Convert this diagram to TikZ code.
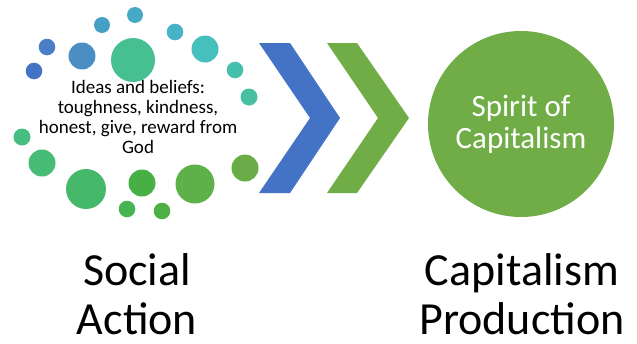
\documentclass[tikz,border=0pt]{standalone}
\usepackage{fontspec}
\setmainfont{Carlito}
\definecolor{chevblue}{HTML}{4472C4}
\definecolor{chevgreen}{HTML}{70AD47}
\begin{document}
\begin{tikzpicture}[x=1pt,y=-1pt,
  txt/.style={align=center,inner sep=0pt}]
  \useasboundingbox (0,0) rectangle (637,343);
  \foreach \x/\y/\r/\c in {34/71/8.3/4472C4, 47/47/8.3/4A7EC6, 82/56/13.5/4A8EC4,
    102/25/8/46A0C6, 135/15/8/46AAC6, 175/32/8.3/46B4C6, 205/49/13.5/46C0BC,
    235/70/8.3/46C0AC, 249/97/8.5/46C0A0, 133/60/22/46C090,
    22/137/8.5/46BE80, 42/163/13.5/46BC76, 86/189/20/46B86A, 127/209/8.3/46B450,
    142/183/13.5/46B045, 162/211/8.3/4CB045, 195/184/19.5/5EB048, 245/168/13.5/6AAC47}
    {\definecolor{dotc}{HTML}{\c}
     \fill[dotc] (\x,\y) circle (\r pt);}
  \node[txt,font=\fontsize{19}{20}\selectfont] (ideas) at (138,116.5)
    {Ideas and beliefs:\\toughness, kindness,\\honest, give, reward from\\God};
  \fill[chevblue] (259,43) -- (290,43) -- (340,118) -- (290,193) -- (259,193) -- (310,118) -- cycle;
  \fill[chevgreen] (327,43) -- (357,43) -- (409,118) -- (357,193) -- (327,193) -- (378,118) -- cycle;
  \node[circle,fill=chevgreen,minimum size=186pt,inner sep=0pt,text=white,align=center,
    font=\fontsize{31}{32}\selectfont] (spirit) at (521,124) {Spirit of\\Capitalism};
  \node[txt,font=\fontsize{46}{49}\selectfont] (social) at (137,294.5) {Social\\Action};
  \node[txt,font=\fontsize{46}{49}\selectfont] (production) at (522,294.5) {Capitalism\\Production};
\end{tikzpicture}
\end{document}
